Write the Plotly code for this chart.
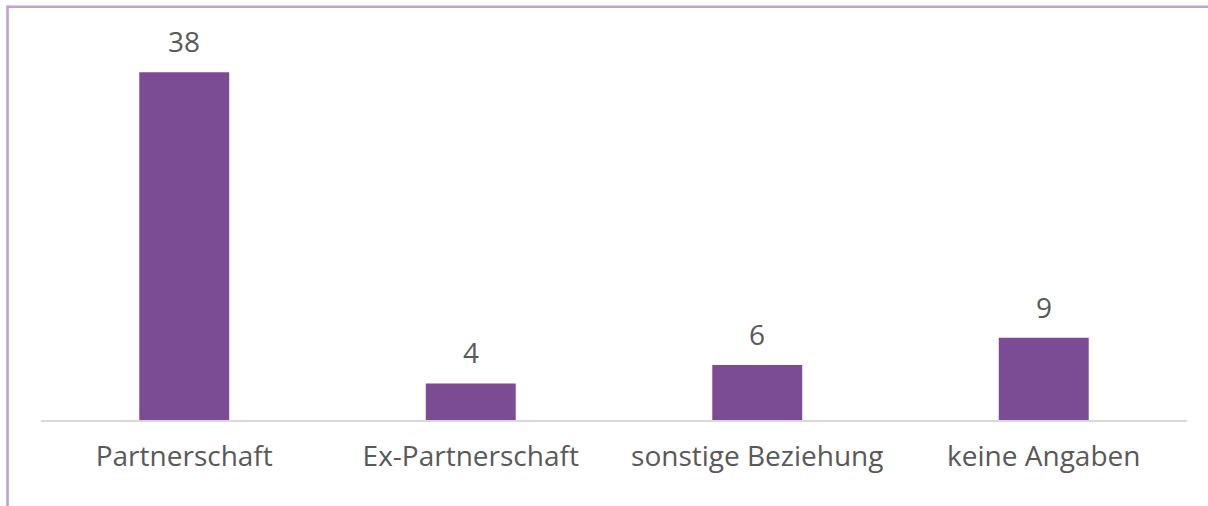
import plotly.graph_objects as go

categories = ["Partnerschaft", "Ex-Partnerschaft", "sonstige Beziehung", "keine Angaben"]
values = [38, 4, 6, 9]

W, H = 1208, 506
ml, mr, mt, mb = 41, 21, 54, 86
pw, ph = W - ml - mr, H - mt - mb

bar_color = "#7b4b94"
text_color = "#595959"
border_color = "#c0a3d1"
font_family = "'Open Sans', 'Noto Sans', sans-serif"

fig = go.Figure(go.Bar(
    x=categories, y=values, marker_color=bar_color, width=0.314,
    marker_line_width=0, hoverinfo="skip",
))

for c, v in zip(categories, values):
    fig.add_annotation(x=c, y=v, text=str(v), showarrow=False, yanchor="bottom",
                       yshift=10, font=dict(size=28, color=text_color, family=font_family))

def px_x(p):
    return (p - ml) / pw

def px_y(p):
    return (H - mb - p) / ph

fig.add_shape(type="line", xref="paper", yref="paper",
              x0=px_x(7.5), x1=px_x(W + 5), y0=px_y(6.8), y1=px_y(6.8),
              line=dict(color=border_color, width=2.6))
fig.add_shape(type="line", xref="paper", yref="paper",
              x0=px_x(7.5), x1=px_x(7.5), y0=px_y(5.5), y1=px_y(H + 5),
              line=dict(color=border_color, width=2.6))

fig.update_layout(
    width=W, height=H,
    margin=dict(l=ml, r=mr, t=mt, b=mb, pad=0),
    paper_bgcolor="white", plot_bgcolor="white",
    showlegend=False,
    font=dict(family=font_family, color=text_color, size=28),
    xaxis=dict(showline=True, linecolor="#d9d9d9", linewidth=2, ticks="",
               tickfont=dict(size=28, color=text_color), showgrid=False, zeroline=False,
               ticklabelstandoff=10, fixedrange=True),
    yaxis=dict(range=[0, 40], showticklabels=False, showgrid=False, zeroline=False,
               showline=False, fixedrange=True),
)

fig.write_html("out.html", config={"displayModeBar": False},
               post_script="document.body.style.margin='0';document.body.style.overflow='hidden';")
